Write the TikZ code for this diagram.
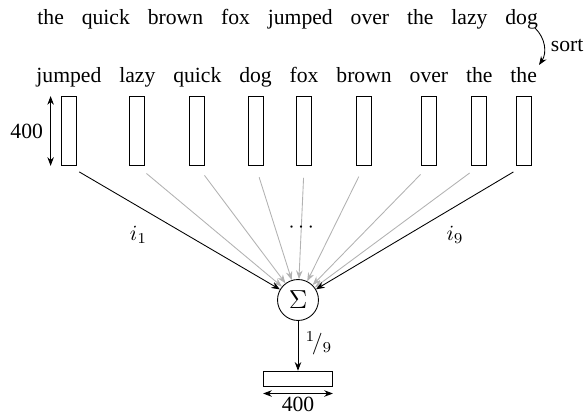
\documentclass[tikz,border=0pt]{standalone}
\usepackage[no-math]{fontspec}
\setmainfont{Liberation Serif}
\usetikzlibrary{positioning,arrows.meta}

\begin{document}
\begin{tikzpicture}[x=0.4615pt,y=-0.4615pt,node distance=7.85pt,
    word_node/.style={inner sep=0pt},
    vec_node/.style={draw,minimum width=6.9pt,minimum height=31.8pt,inner sep=0pt},
    out_node/.style={draw,minimum width=31.8pt,minimum height=6.9pt,inner sep=0pt},
    sum_node/.style={circle,draw,minimum size=18.9pt,inner sep=0pt,font=\fontsize{13}{15}\selectfont},
    main_line/.style={-{Stealth[length=4pt,width=3pt]}},
    feed_line/.style={main_line,black!30,shorten <=5.5pt},
    dim_line/.style={{Stealth[length=4pt,width=3pt]}-{Stealth[length=4pt,width=3pt]}}]
    \useasboundingbox (0,0) rectangle (587,412);
    % input sentence
    \node[word_node, anchor=base west] (a1) at (37,24) {the};
    \foreach \w [count=\i from 2] in {quick,brown,fox,jumped,over,the,lazy,dog} {
        \pgfmathtruncatemacro\j{\i-1}
        \node[word_node, base right=of a\j] (a\i) {\w};
    }
    % sorted words
    \node[word_node, anchor=base west] (b1) at (36,82) {jumped};
    \foreach \w [count=\i from 2] in {lazy,quick,dog,fox,brown,over,the,the} {
        \pgfmathtruncatemacro\j{\i-1}
        \node[word_node, base right=of b\j] (b\i) {\w};
    }
    \coordinate (s1) at (535,28);
    \coordinate (s2) at (539,65);
    \draw[main_line] (s1) to[bend left=40] node[right,inner sep=3pt] {sort} (s2);
    % word vectors
    \foreach \i in {1,...,9}
        \node[vec_node, below=6.5pt of b\i.base] (v\i) {};
    \draw[dim_line] ([xshift=-4.8pt]v1.north west) -- node[left] {400} ([xshift=-4.8pt]v1.south west);
    % sum
    \node[sum_node] (sum) at (298,300) {$\Sigma$};
    \foreach \i in {2,3,4,6,7,8}
        \draw[feed_line] (v\i.south) -- (sum);
    \draw[feed_line] (v5.south) -- node[pos=0.55,black] {$\cdots$} (sum);
    \draw[main_line,shorten <=5.5pt] (v1.south) -- node[pos=0.33,below=5.5pt] {$i_1$} (sum);
    \draw[main_line,shorten <=5.5pt] (v9.south) -- node[pos=0.33,below=5.5pt] {$i_9$} (sum);
    % average
    \node[out_node, below=23pt of sum] (out) {};
    \draw[main_line] (sum) -- node[right,pos=0.45] {${}^1\!/_9$} (out);
    \draw[dim_line] ([yshift=-3.2pt]out.south west) -- node[below,inner sep=1.5pt] {400} ([yshift=-3.2pt]out.south east);
\end{tikzpicture}
\end{document}
